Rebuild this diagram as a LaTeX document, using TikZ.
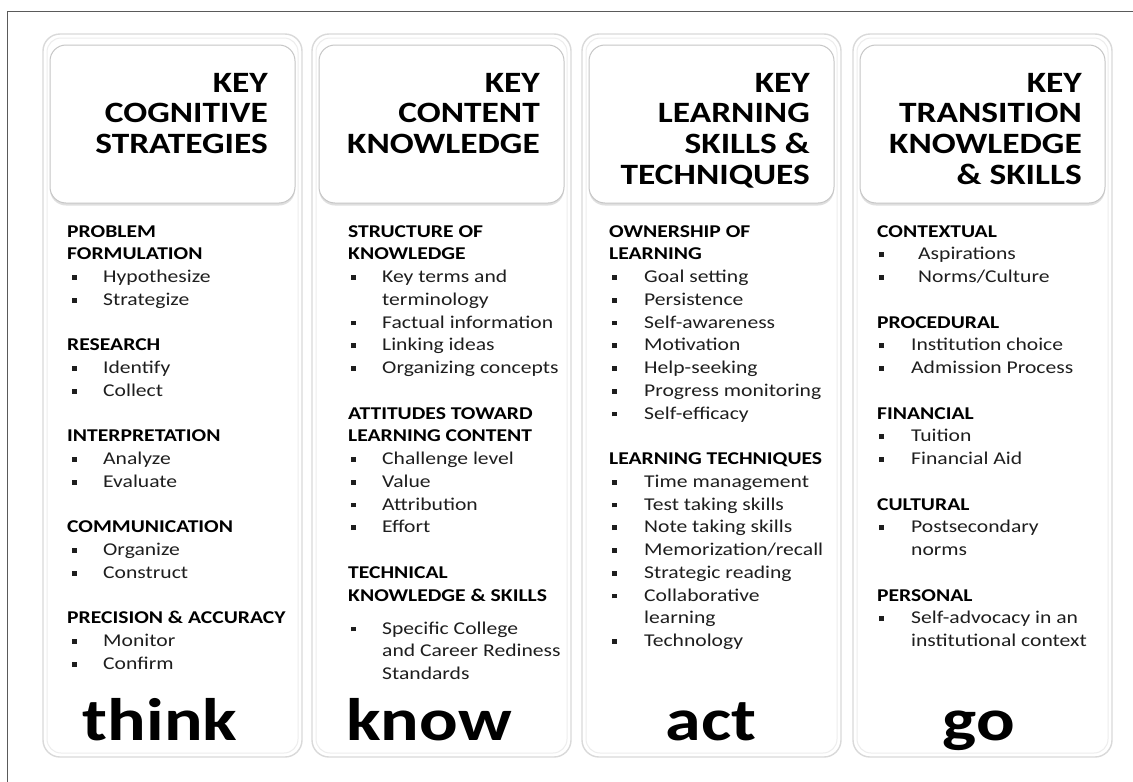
\documentclass[tikz,border=0pt]{standalone}
\usepackage{fontspec}
\setmainfont[FakeStretch=1.2]{Carlito}
\usetikzlibrary{shadows}
\definecolor{txt}{HTML}{1E1E1E}
\definecolor{frm}{HTML}{5A5A5A}
\newcommand\bul{\rule[2.6pt]{4.8pt}{4.8pt}}
\newcommand\B[1]{\makebox[#1pt][l]{\bul}}
\begin{document}
\begin{tikzpicture}[x=1pt,y=-1pt,
 colbox/.style={draw=gray!30, line width=1.4pt, rounded corners=17pt, fill=white},
 colin/.style={draw=gray!14, line width=1pt, rounded corners=14pt},
 headbox/.style={draw=gray!45, line width=1pt, rounded corners=16pt, fill=white, drop shadow={shadow xshift=0pt, shadow yshift=-2.5pt, opacity=0.25}},
 ht/.style={anchor=base east, inner sep=0, font=\fontsize{29.5}{30}\selectfont\bfseries},
 hd/.style={anchor=base west, inner sep=0, font=\fontsize{18}{20}\selectfont\bfseries},
 it/.style={anchor=base west, inner sep=0, text=txt, font=\fontsize{18}{20}\selectfont},
 big/.style={anchor=base, inner sep=0, font=\fontsize{60}{60}\selectfont\bfseries}]
\useasboundingbox (0,0) rectangle (1133,782);
\fill[white] (0,0) rectangle (1133,782);
\draw[frm, line width=1pt] (7,782) -- (7,11) -- (1133,11);
\foreach \cx in {43,312,582,853}{
  \draw[colbox] (\cx,34) rectangle (\cx+259,757);
  \draw[colin] (\cx+4,38) rectangle (\cx+255,753);
  \draw[headbox] (\cx+7,45) rectangle (\cx+252,203);
}
% headers
\node[ht] (h1a) at (268,92) {KEY};
\node[ht] (h1b) at (268,92+30.7) {COGNITIVE};
\node[ht] (h1c) at (268,92+2*30.7) {STRATEGIES};
\node[ht] (h2a) at (540,92) {KEY};
\node[ht] (h2b) at (540,92+30.7) {CONTENT};
\node[ht] (h2c) at (540,92+2*30.7) {KNOWLEDGE};
\node[ht] (h3a) at (810,92) {KEY};
\node[ht] (h3b) at (810,92+30.7) {LEARNING};
\node[ht] (h3c) at (810,92+2*30.7) {SKILLS \&};
\node[ht] (h3d) at (810,92+3*30.7) {TECHNIQUES};
\node[ht] (h4a) at (1082,92) {KEY};
\node[ht] (h4b) at (1082,92+30.7) {TRANSITION};
\node[ht] (h4c) at (1082,92+2*30.7) {KNOWLEDGE};
\node[ht] (h4d) at (1082,92+3*30.7) {\& SKILLS};
% column 1
\node[hd] (a0) at (67,237) {PROBLEM};
\node[hd] (a1) at (67,237+1*22.75) {FORMULATION};
\node[it] (a2) at (72,237+2*22.75) {\B{31}Hypothesize};
\node[it] (a3) at (72,237+3*22.75) {\B{31}Strategize};
\node[hd] (a5) at (67,237+5*22.75) {RESEARCH};
\node[it] (a6) at (72,237+6*22.75) {\B{31}Identify};
\node[it] (a7) at (72,237+7*22.75) {\B{31}Collect};
\node[hd] (a9) at (67,237+9*22.75) {INTERPRETATION};
\node[it] (a10) at (72,237+10*22.75) {\B{31}Analyze};
\node[it] (a11) at (72,237+11*22.75) {\B{31}Evaluate};
\node[hd] (a13) at (67,237+13*22.75) {COMMUNICATION};
\node[it] (a14) at (72,237+14*22.75) {\B{31}Organize};
\node[it] (a15) at (72,237+15*22.75) {\B{31}Construct};
\node[hd] (a17) at (67,237+17*22.75) {PRECISION \& ACCURACY};
\node[it] (a18) at (72,237+18*22.75) {\B{31}Monitor};
\node[it] (a19) at (72,237+19*22.75) {\B{31}Confirm};
\node[big] (think) at (160,740) {think};
% column 2
\node[hd] (b0) at (348,237) {STRUCTURE OF};
\node[hd] (b1) at (348,237+1*22.75) {KNOWLEDGE};
\node[it] (b2) at (351,237+2*22.75) {\B{31}Key terms and};
\node[it] (b3) at (382,237+3*22.75) {terminology};
\node[it] (b4) at (351,237+4*22.75) {\B{31}Factual information};
\node[it] (b5) at (351,237+5*22.75) {\B{31}Linking ideas};
\node[it] (b6) at (351,237+6*22.75) {\B{31}Organizing concepts};
\node[hd] (b8) at (348,237+8*22.75) {ATTITUDES TOWARD};
\node[hd] (b9) at (348,237+9*22.75) {LEARNING CONTENT};
\node[it] (b10) at (351,237+10*22.75) {\B{31}Challenge level};
\node[it] (b11) at (351,237+11*22.75) {\B{31}Value};
\node[it] (b12) at (351,237+12*22.75) {\B{31}Attribution};
\node[it] (b13) at (351,237+13*22.75) {\B{31}Effort};
\node[hd] (b15) at (348,237+15*22.75) {TECHNICAL};
\node[hd] (b16) at (348,237+16*22.75) {KNOWLEDGE \& SKILLS};
\node[it] (b17) at (351,634) {\B{31}Specific College};
\node[it] (b18) at (382,634+22.5) {and Career Rediness};
\node[it] (b19) at (382,634+45) {Standards};
\node[big] (know) at (429,740) {know};
% column 3
\node[hd] (c0) at (609,237) {OWNERSHIP OF};
\node[hd] (c1) at (609,237+1*22.75) {LEARNING};
\node[it] (c2) at (612,237+2*22.75) {\B{32}Goal setting};
\node[it] (c3) at (612,237+3*22.75) {\B{32}Persistence};
\node[it] (c4) at (612,237+4*22.75) {\B{32}Self-awareness};
\node[it] (c5) at (612,237+5*22.75) {\B{32}Motivation};
\node[it] (c6) at (612,237+6*22.75) {\B{32}Help-seeking};
\node[it] (c7) at (612,237+7*22.75) {\B{32}Progress monitoring};
\node[it] (c8) at (612,237+8*22.75) {\B{32}Self-efficacy};
\node[hd] (c10) at (609,237+10*22.75) {LEARNING TECHNIQUES};
\node[it] (c11) at (612,237+11*22.75) {\B{32}Time management};
\node[it] (c12) at (612,237+12*22.75) {\B{32}Test taking skills};
\node[it] (c13) at (612,237+13*22.75) {\B{32}Note taking skills};
\node[it] (c14) at (612,237+14*22.75) {\B{32}Memorization/recall};
\node[it] (c15) at (612,237+15*22.75) {\B{32}Strategic reading};
\node[it] (c16) at (612,237+16*22.75) {\B{32}Collaborative};
\node[it] (c17) at (644,237+17*22.75) {learning};
\node[it] (c18) at (612,237+18*22.75) {\B{32}Technology};
\node[big] (act) at (711,740) {act};
% column 4
\node[hd] (d0) at (877,237) {CONTEXTUAL};
\node[it] (d1) at (879,237+1*22.75) {\B{39}Aspirations};
\node[it] (d2) at (879,237+2*22.75) {\B{39}Norms/Culture};
\node[hd] (d4) at (877,237+4*22.75) {PROCEDURAL};
\node[it] (d5) at (879,237+5*22.75) {\B{32}Institution choice};
\node[it] (d6) at (879,237+6*22.75) {\B{32}Admission Process};
\node[hd] (d8) at (877,237+8*22.75) {FINANCIAL};
\node[it] (d9) at (879,237+9*22.75) {\B{32}Tuition};
\node[it] (d10) at (879,237+10*22.75) {\B{32}Financial Aid};
\node[hd] (d12) at (877,237+12*22.75) {CULTURAL};
\node[it] (d13) at (879,237+13*22.75) {\B{32}Postsecondary};
\node[it] (d14) at (911,237+14*22.75) {norms};
\node[hd] (d16) at (877,237+16*22.75) {PERSONAL};
\node[it] (d17) at (879,237+17*22.75) {\B{32}Self-advocacy in an};
\node[it] (d18) at (911,237+18*22.75) {institutional context};
\node[big] (go) at (979,740) {go};
\end{tikzpicture}
\end{document}
